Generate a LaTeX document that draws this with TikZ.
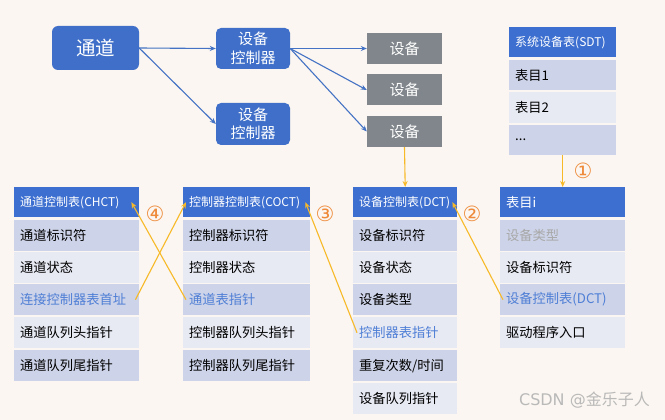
\documentclass[tikz,border=0pt]{standalone}
\usepackage{fontspec}
\newfontfamily\cjk{Noto Sans CJK SC}
\newfontfamily\djv{DejaVu Sans}
\usetikzlibrary{arrows.meta}
\definecolor{bg}{HTML}{FBF6F1}
\definecolor{boxblue}{HTML}{3F6FC8}
\definecolor{hdrblue}{HTML}{3D6FD0}
\definecolor{devgray}{HTML}{80868B}
\definecolor{rowdark}{HTML}{CDD3E8}
\definecolor{rowlight}{HTML}{E7E9F3}
\definecolor{linkblue}{HTML}{4F7FD6}
\definecolor{fadegray}{HTML}{A8A8A8}
\definecolor{ylw}{HTML}{F7B928}
\definecolor{numor}{HTML}{EE8A3A}
\definecolor{arrblue}{HTML}{4472C4}
\begin{document}
\begin{tikzpicture}[x=1pt,y=-1pt,
  bluebox/.style={fill=boxblue, text=white, align=center, inner sep=0pt},
  devbox/.style={fill=devgray, text=white, minimum width=75pt, minimum height=31pt, inner sep=0pt, font=\cjk\fontsize{15}{17}\selectfont},
  cell/.style={anchor=north west, minimum height=31pt, inner xsep=6pt, inner ysep=0pt, align=left, font=\cjk\fontsize{13.25}{15}\selectfont, text=black},
  hdr/.style={cell, fill=hdrblue, text=white, minimum height=30pt, font=\cjk\fontsize{12}{14}\selectfont},
  dk/.style={cell, fill=rowdark},
  lt/.style={cell, fill=rowlight},
  barrow/.style={draw=arrblue, line width=1.1pt, -{Stealth[length=6pt,width=5pt]}},
  yarrow/.style={draw=ylw, line width=1.1pt, -{Stealth[length=6pt,width=5pt]}},
  num/.style={text=numor, font=\djv\fontsize{21}{22}\selectfont, inner sep=0pt}
]
\fill[bg] (0,0) rectangle (665,420);
\useasboundingbox (0,0) rectangle (665,420);

% top part
\node[bluebox, minimum width=87pt, minimum height=44pt, rounded corners=6pt, font=\cjk\fontsize{19.5}{21}\selectfont] (ch) at (95.5,48) {通道};
\node[bluebox, minimum width=74pt, minimum height=41pt, rounded corners=5pt, font=\cjk\fontsize{15}{18.5}\selectfont] (ctl1) at (253,48.5) {设备\\控制器};
\node[bluebox, minimum width=74pt, minimum height=42pt, rounded corners=5pt, font=\cjk\fontsize{15}{18.5}\selectfont] (ctl2) at (253,124) {设备\\控制器};
\node[devbox] (dev1) at (404.5,48.5) {设备};
\node[devbox] (dev2) at (404.5,90) {设备};
\node[devbox] (dev3) at (404.5,131.5) {设备};

\draw[barrow] (ch.east) -- (ctl1.west);
\draw[barrow] (ch.east) -- (ctl2.west);
\draw[barrow] (ctl1.east) -- (dev1.west);
\draw[barrow] (ctl1.east) -- (dev2.west);
\draw[barrow] (ctl1.east) -- (dev3.west);

% SDT
\node[hdr, text width=95pt] (sdt0) at (509,27) {系统设备表(SDT)};
\node[dk, text width=95pt, minimum height=30pt] (sdt1) at (509,60) {表目1};
\node[lt, text width=95pt] (sdt2) at (509,92) {表目2};
\node[dk, text width=95pt, minimum height=30pt] (sdt3) at (509,125) {...};

% CHCT
\node[hdr, text width=113pt] (chct0) at (14,187) {通道控制表(CHCT)};
\node[dk, text width=113pt] (chct1) at (14,220) {通道标识符};
\node[lt, text width=113pt] (chct2) at (14,252) {通道状态};
\node[dk, text width=113pt, text=linkblue] (chct3) at (14,284) {连接控制器表首址};
\node[lt, text width=113pt] (chct4) at (14,317) {通道队列头指针};
\node[dk, text width=113pt] (chct5) at (14,350) {通道队列尾指针};

% COCT
\node[hdr, text width=115pt] (coct0) at (183,187) {控制器控制表(COCT)};
\node[dk, text width=115pt] (coct1) at (183,220) {控制器标识符};
\node[lt, text width=115pt] (coct2) at (183,252) {控制器状态};
\node[dk, text width=115pt, text=linkblue] (coct3) at (183,284) {通道表指针};
\node[lt, text width=115pt] (coct4) at (183,317) {控制器队列头指针};
\node[dk, text width=115pt] (coct5) at (183,350) {控制器队列尾指针};

% DCT
\node[hdr, text width=92pt] (dct0) at (353,187) {设备控制表(DCT)};
\node[dk, text width=92pt] (dct1) at (353,220) {设备标识符};
\node[lt, text width=92pt] (dct2) at (353,252) {设备状态};
\node[dk, text width=92pt] (dct3) at (353,284) {设备类型};
\node[lt, text width=92pt, text=linkblue] (dct4) at (353,317) {控制器表指针};
\node[dk, text width=92pt] (dct5) at (353,350) {重复次数/时间};
\node[lt, text width=92pt] (dct6) at (353,383) {设备队列指针};

% entry i
\node[hdr, text width=113pt, font=\cjk\fontsize{13.25}{15}\selectfont] (ti0) at (500,187) {表目i};
\node[dk, text width=113pt, text=fadegray] (ti1) at (500,220) {设备类型};
\node[lt, text width=113pt] (ti2) at (500,252) {设备标识符};
\node[dk, text width=113pt, text=linkblue] (ti3) at (500,284) {设备控制表(DCT)};
\node[lt, text width=113pt] (ti4) at (500,317) {驱动程序入口};

% yellow connectors
\draw[yarrow] (dev3.south) -- (dct0.north);
\draw[yarrow] (sdt3.south -| ti0.north) -- (ti0.north);
\draw[yarrow] ([xshift=3pt]ti3.west) -- ([xshift=-5pt]dct0.east);
\draw[yarrow] ([xshift=4pt]dct4.west) -- ([xshift=-5pt]coct0.east);
\draw[yarrow] ([xshift=3pt]coct3.west) -- ([xshift=-8pt]chct0.east);
\draw[yarrow] ([xshift=-4pt]chct3.east) -- ([xshift=3pt]coct0.west);

\node[num] (n1) at (583,171) {①};
\node[num] (n2) at (472,214) {②};
\node[num] (n3) at (325,214) {③};
\node[num] (n4) at (155,214) {④};

\node[text=fadegray!80, font=\djv\fontsize{16}{18}\selectfont, anchor=east, inner sep=0pt] (wm) at (650,400) {CSDN @{\cjk 金乐子人}};
\end{tikzpicture}
\end{document}
